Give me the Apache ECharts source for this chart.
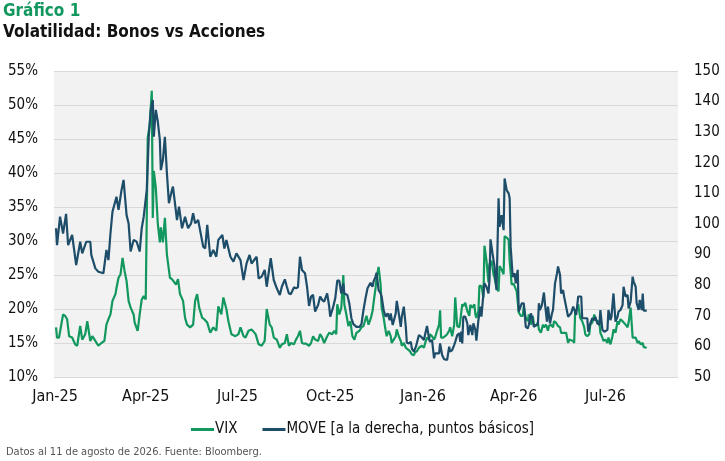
<!DOCTYPE html>
<html>
<head>
<meta charset="utf-8">
<script src="https://cdn.jsdelivr.net/npm/echarts@6/dist/echarts.min.js"></script>
<style>
  html, body { margin: 0; padding: 0; background: #fff; }
  #chart { width: 725px; height: 461px; }
</style>
</head>
<body>
<div id="chart"></div>
<script>
const tickDates = ["2025-01-01", "2025-04-01", "2025-07-01", "2025-10-01", "2026-01-01", "2026-04-01", "2026-07-01"];
const tickLabels = ["Jan-25", "Apr-25", "Jul-25", "Oct-25", "Jan-26", "Apr-26", "Jul-26"];

const leftTicks = [10, 55, 5];    // min, max, step (%)
const rightTicks = [50, 150, 10]; // min, max, step (bp)

const vixDates = [
    "2025-01-02","2025-01-03","2025-01-05","2025-01-07","2025-01-09","2025-01-11","2025-01-13","2025-01-15","2025-01-18","2025-01-21",
    "2025-01-23","2025-01-26","2025-01-28","2025-01-31","2025-02-02","2025-02-05","2025-02-07","2025-02-10","2025-02-13","2025-02-16",
    "2025-02-19","2025-02-21","2025-02-23","2025-02-25","2025-02-27","2025-03-02","2025-03-03","2025-03-05","2025-03-07","2025-03-09",
    "2025-03-11","2025-03-13","2025-03-15","2025-03-17","2025-03-20","2025-03-21","2025-03-24","2025-03-26","2025-03-28","2025-03-30",
    "2025-04-01","2025-04-03","2025-04-05","2025-04-07","2025-04-08","2025-04-09","2025-04-11","2025-04-13","2025-04-15","2025-04-16",
    "2025-04-18","2025-04-20","2025-04-22","2025-04-25","2025-04-27","2025-04-28","2025-05-01","2025-05-03","2025-05-05","2025-05-08",
    "2025-05-10","2025-05-12","2025-05-15","2025-05-18","2025-05-20","2025-05-22","2025-05-24","2025-05-27","2025-05-29","2025-06-01",
    "2025-06-04","2025-06-07","2025-06-10","2025-06-12","2025-06-15","2025-06-17","2025-06-20","2025-06-22","2025-06-25","2025-06-29",
    "2025-07-02","2025-07-04","2025-07-07","2025-07-09","2025-07-12","2025-07-15","2025-07-19","2025-07-22","2025-07-25","2025-07-28",
    "2025-07-30","2025-08-02","2025-08-04","2025-08-06","2025-08-09","2025-08-12","2025-08-14","2025-08-17","2025-08-19","2025-08-21",
    "2025-08-23","2025-08-26","2025-08-28","2025-08-30","2025-09-01","2025-09-03","2025-09-05","2025-09-07","2025-09-10","2025-09-12",
    "2025-09-14","2025-09-16","2025-09-19","2025-09-21","2025-09-23","2025-09-25","2025-09-28","2025-09-30","2025-10-03","2025-10-05",
    "2025-10-07","2025-10-08","2025-10-10","2025-10-12","2025-10-14","2025-10-15","2025-10-17","2025-10-19","2025-10-21","2025-10-23",
    "2025-10-25","2025-10-27","2025-10-30","2025-11-01","2025-11-03","2025-11-06","2025-11-08","2025-11-10","2025-11-12","2025-11-13",
    "2025-11-15","2025-11-16","2025-11-18","2025-11-20","2025-11-21","2025-11-23","2025-11-25","2025-11-26","2025-11-28","2025-11-30",
    "2025-12-01","2025-12-03","2025-12-05","2025-12-06","2025-12-08","2025-12-10","2025-12-11","2025-12-13","2025-12-15","2025-12-16",
    "2025-12-19","2025-12-21","2025-12-23","2025-12-24","2025-12-26","2025-12-28","2025-12-29","2025-12-31","2026-01-02","2026-01-03",
    "2026-01-05","2026-01-07","2026-01-08","2026-01-10","2026-01-12","2026-01-13","2026-01-15","2026-01-17","2026-01-18","2026-01-19",
    "2026-01-21","2026-01-23","2026-01-25","2026-01-27","2026-01-28","2026-01-30","2026-02-01","2026-02-02","2026-02-04","2026-02-06",
    "2026-02-07","2026-02-09","2026-02-10","2026-02-12","2026-02-14","2026-02-16","2026-02-17","2026-02-19","2026-02-21","2026-02-22",
    "2026-02-23","2026-02-25","2026-02-26","2026-02-28","2026-03-02","2026-03-03","2026-03-05","2026-03-07","2026-03-08","2026-03-10",
    "2026-03-12","2026-03-13","2026-03-15","2026-03-17","2026-03-18","2026-03-20","2026-03-22","2026-03-23","2026-03-25","2026-03-27",
    "2026-03-28","2026-03-30","2026-04-01","2026-04-02","2026-04-04","2026-04-06","2026-04-08","2026-04-10","2026-04-11","2026-04-13",
    "2026-04-15","2026-04-16","2026-04-18","2026-04-20","2026-04-21","2026-04-23","2026-04-25","2026-04-26","2026-04-28","2026-04-30",
    "2026-05-01","2026-05-03","2026-05-05","2026-05-06","2026-05-08","2026-05-10","2026-05-11","2026-05-13","2026-05-15","2026-05-17",
    "2026-05-18","2026-05-20","2026-05-21","2026-05-23","2026-05-25","2026-05-26","2026-05-28","2026-05-30","2026-05-31","2026-06-01",
    "2026-06-03","2026-06-04","2026-06-06","2026-06-08","2026-06-10","2026-06-11","2026-06-13","2026-06-15","2026-06-16","2026-06-18",
    "2026-06-20","2026-06-21","2026-06-23","2026-06-25","2026-06-26","2026-06-28","2026-06-29","2026-07-01","2026-07-03","2026-07-04",
    "2026-07-06","2026-07-08","2026-07-09","2026-07-11","2026-07-13","2026-07-14","2026-07-16","2026-07-18","2026-07-19","2026-07-21",
    "2026-07-23","2026-07-24","2026-07-26","2026-07-28","2026-07-29","2026-07-31","2026-08-02","2026-08-03","2026-08-05","2026-08-07",
    "2026-08-08","2026-08-11"
];
const vixValues = [
    17.3,15.8,15.8,17.5,19.2,19.0,18.5,16.0,15.8,14.8,
    14.6,17.5,15.5,16.3,18.2,15.3,16.0,15.3,14.6,15.0,
    15.3,17.7,18.5,19.2,21.2,22.2,23.1,24.6,25.1,27.5,
    25.6,24.1,21.2,20.2,19.2,18.0,16.8,19.2,21.4,21.9,
    21.4,45.2,47.2,52.1,33.4,40.3,37.8,32.5,29.8,32.0,
    29.8,33.4,28.0,24.6,24.4,24.6,23.6,24.4,22.2,21.2,
    18.7,17.7,17.3,17.7,21.2,22.2,20.2,18.7,18.5,18.0,
    16.5,17.3,16.8,20.4,19.2,21.7,20.0,18.2,16.3,16.0,
    16.3,17.3,16.0,15.8,16.8,17.0,16.3,14.8,14.6,15.3,
    20.0,17.7,17.3,15.8,15.5,14.3,14.8,15.0,16.3,14.6,
    15.0,14.8,15.5,16.0,16.8,15.0,14.9,14.9,14.6,15.0,
    16.0,15.5,15.3,16.3,15.8,15.0,16.0,16.5,16.3,16.8,
    16.3,20.7,19.2,20.2,25.0,20.7,19.2,17.5,18.2,16.0,
    15.5,16.5,16.8,17.3,17.5,19.0,17.7,18.5,19.7,20.9,
    23.1,24.6,26.2,23.6,20.2,18.7,16.8,16.0,16.8,16.0,
    15.0,15.5,16.0,17.0,16.0,15.3,14.6,15.0,14.3,14.1,
    13.8,13.3,13.2,13.6,13.8,14.3,14.3,14.6,14.3,14.9,
    15.8,15.5,16.3,16.0,15.5,15.8,16.8,17.7,19.8,15.8,
    15.8,16.0,16.3,16.8,17.3,16.0,17.7,21.7,17.5,17.3,
    18.2,20.7,20.4,20.9,19.7,19.0,20.6,20.2,20.7,19.2,
    18.7,19.7,23.4,23.4,21.7,29.3,27.1,23.9,26.6,27.1,
    25.1,24.6,23.1,22.6,26.3,25.8,25.1,30.7,30.5,30.2,
    27.1,23.6,23.7,23.9,22.6,19.5,19.0,19.0,20.4,18.7,
    18.2,19.2,17.7,19.0,17.7,17.5,18.0,17.0,16.5,17.7,
    17.3,17.7,16.8,17.5,17.7,17.3,18.2,18.0,17.5,17.3,
    16.5,16.5,16.3,16.5,15.0,15.5,15.4,15.3,15.0,19.7,
    20.0,20.7,18.7,18.2,17.3,16.3,16.0,16.3,17.7,18.0,
    19.2,18.5,18.2,18.2,16.5,15.8,15.3,15.5,15.0,15.8,
    14.8,16.0,17.0,16.5,18.2,17.7,18.5,18.2,18.2,17.7,
    17.3,18.0,20.2,15.8,15.8,15.8,15.0,15.3,14.8,15.0,
    14.4,14.3
];

const moveDates = [
    "2025-01-02","2025-01-03","2025-01-06","2025-01-09","2025-01-12","2025-01-14","2025-01-18","2025-01-19","2025-01-22","2025-01-26",
    "2025-01-28","2025-02-01","2025-02-05","2025-02-06","2025-02-10","2025-02-13","2025-02-18","2025-02-21","2025-02-23","2025-02-25",
    "2025-02-27","2025-03-03","2025-03-05","2025-03-08","2025-03-10","2025-03-13","2025-03-15","2025-03-17","2025-03-20","2025-03-23",
    "2025-03-26","2025-03-28","2025-03-30","2025-04-02","2025-04-04","2025-04-06","2025-04-08","2025-04-09","2025-04-11","2025-04-13",
    "2025-04-15","2025-04-16","2025-04-18","2025-04-20","2025-04-22","2025-04-24","2025-04-27","2025-04-28","2025-05-02","2025-05-04",
    "2025-05-07","2025-05-10","2025-05-13","2025-05-16","2025-05-18","2025-05-20","2025-05-23","2025-05-28","2025-05-30","2025-06-01",
    "2025-06-04","2025-06-07","2025-06-10","2025-06-12","2025-06-16","2025-06-18","2025-06-20","2025-06-24","2025-06-27","2025-06-30",
    "2025-07-04","2025-07-07","2025-07-10","2025-07-13","2025-07-15","2025-07-20","2025-07-22","2025-07-25","2025-07-28","2025-07-30",
    "2025-08-03","2025-08-06","2025-08-09","2025-08-12","2025-08-14","2025-08-17","2025-08-19","2025-08-21","2025-08-23","2025-08-26",
    "2025-08-28","2025-08-30","2025-09-01","2025-09-03","2025-09-06","2025-09-08","2025-09-10","2025-09-12","2025-09-14","2025-09-16",
    "2025-09-19","2025-09-21","2025-09-23","2025-09-25","2025-09-28","2025-09-30","2025-10-01","2025-10-04","2025-10-06","2025-10-08",
    "2025-10-10","2025-10-12","2025-10-14","2025-10-15","2025-10-18","2025-10-20","2025-10-22","2025-10-24","2025-10-27","2025-10-30",
    "2025-11-01","2025-11-03","2025-11-05","2025-11-07","2025-11-10","2025-11-12","2025-11-13","2025-11-15","2025-11-16","2025-11-18",
    "2025-11-20","2025-11-21","2025-11-23","2025-11-25","2025-11-27","2025-11-29","2025-11-30","2025-12-02","2025-12-05","2025-12-06",
    "2025-12-08","2025-12-10","2025-12-11","2025-12-13","2025-12-15","2025-12-16","2025-12-18","2025-12-20","2025-12-21","2025-12-23",
    "2025-12-25","2025-12-26","2025-12-28","2025-12-30","2025-12-31","2026-01-02","2026-01-03","2026-01-05","2026-01-07","2026-01-08",
    "2026-01-10","2026-01-12","2026-01-13","2026-01-15","2026-01-17","2026-01-18","2026-01-20","2026-01-22","2026-01-23","2026-01-25",
    "2026-01-27","2026-01-28","2026-01-30","2026-02-01","2026-02-02","2026-02-04","2026-02-06","2026-02-07","2026-02-08","2026-02-09",
    "2026-02-10","2026-02-12","2026-02-14","2026-02-15","2026-02-17","2026-02-19","2026-02-20","2026-02-22","2026-02-23","2026-02-25",
    "2026-02-27","2026-02-28","2026-03-02","2026-03-03","2026-03-05","2026-03-07","2026-03-08","2026-03-09","2026-03-11","2026-03-13",
    "2026-03-14","2026-03-15","2026-03-17","2026-03-18","2026-03-20","2026-03-22","2026-03-23","2026-03-25","2026-03-27","2026-03-28",
    "2026-03-29","2026-03-31","2026-04-02","2026-04-03","2026-04-05","2026-04-06","2026-04-07","2026-04-09","2026-04-11","2026-04-13",
    "2026-04-15","2026-04-16","2026-04-18","2026-04-20","2026-04-21","2026-04-23","2026-04-25","2026-04-26","2026-04-27","2026-04-29",
    "2026-05-01","2026-05-02","2026-05-04","2026-05-05","2026-05-07","2026-05-09","2026-05-10","2026-05-12","2026-05-14","2026-05-15",
    "2026-05-17","2026-05-18","2026-05-20","2026-05-21","2026-05-23","2026-05-25","2026-05-26","2026-05-28","2026-05-30","2026-05-31",
    "2026-06-02","2026-06-04","2026-06-05","2026-06-07","2026-06-08","2026-06-10","2026-06-11","2026-06-13","2026-06-14","2026-06-16",
    "2026-06-18","2026-06-20","2026-06-21","2026-06-23","2026-06-25","2026-06-26","2026-06-28","2026-06-30","2026-07-01","2026-07-03",
    "2026-07-04","2026-07-06","2026-07-07","2026-07-09","2026-07-11","2026-07-13","2026-07-14","2026-07-16","2026-07-18","2026-07-19",
    "2026-07-21","2026-07-23","2026-07-24","2026-07-26","2026-07-28","2026-07-29","2026-07-31","2026-08-01","2026-08-03","2026-08-04",
    "2026-08-06","2026-08-07","2026-08-08","2026-08-11"
];
const moveValues = [
    98.6,93.1,102.4,96.9,103.3,93.1,96.4,95.9,86.6,94.2,
    90.4,94.2,94.2,89.9,85.5,84.4,83.9,91.5,88.2,96.9,
    104.0,108.9,104.6,111.1,114.4,102.9,100.2,91.0,94.8,94.2,
    91.0,98.6,102.4,111.1,128.5,137.3,140.5,128.5,137.3,133.4,
    127.5,117.6,120.9,128.5,116.6,106.8,111.1,112.2,101.3,105.7,
    98.6,102.4,98.6,100.2,103.5,100.2,101.3,92.6,92.0,99.7,
    89.3,91.5,89.3,94.8,96.4,92.0,94.8,89.3,87.7,90.4,
    88.2,81.7,87.1,89.9,87.1,89.3,82.2,82.8,85.0,79.5,
    88.8,81.7,79.0,76.8,79.5,81.9,79.5,77.3,77.1,79.3,
    79.0,79.3,89.3,85.0,83.9,79.5,73.2,76.3,76.8,71.4,
    73.5,76.3,75.2,74.6,77.3,73.0,69.7,73.0,75.7,81.5,
    81.5,77.3,80.6,77.3,76.8,73.9,69.2,67.3,66.4,66.4,
    67.3,71.9,75.7,79.0,80.8,79.5,81.2,82.8,84.1,78.4,
    77.3,76.3,71.9,69.7,70.8,68.6,70.8,67.0,70.8,74.9,
    70.8,66.4,69.7,73.0,66.4,61.2,61.0,61.5,59.3,58.3,
    59.9,59.9,63.7,63.2,63.2,62.1,63.7,66.7,62.6,61.5,
    62.1,56.1,57.7,57.7,57.7,61.0,57.2,55.8,55.3,55.6,
    59.9,58.3,58.8,60.5,61.5,63.7,64.3,61.5,64.8,61.0,
    69.7,69.7,67.5,63.7,67.0,63.7,67.5,65.4,61.9,68.6,
    73.0,69.7,77.3,80.6,79.5,77.3,81.7,95.0,90.4,86.1,
    81.7,78.4,108.4,99.1,102.9,98.0,114.9,111.1,110.0,108.4,
    92.6,82.7,83.9,80.6,85.0,71.4,71.9,74.1,74.1,66.4,
    65.9,67.0,70.8,68.6,66.4,67.0,67.0,74.1,71.9,73.5,
    77.6,74.1,68.1,73.0,67.5,70.8,71.9,80.6,83.9,86.1,
    83.3,77.3,78.4,76.3,73.0,69.7,70.3,70.8,73.0,73.5,
    70.3,76.3,76.8,76.3,69.2,69.2,68.6,69.2,64.8,67.5,
    69.2,68.6,69.7,67.5,67.0,71.9,65.4,64.8,65.4,65.4,
    71.9,68.6,69.7,77.3,68.1,69.7,71.4,71.9,73.5,79.5,
    76.3,76.8,72.4,74.6,82.8,81.2,79.5,74.1,71.9,75.2,
    71.9,77.3,71.7,71.7
];

const GREEN = "#12985e";
const NAVY = "#1d4d69";
const FONT = "'Liberation Sans Narrow', 'DejaVu Sans Condensed', 'Roboto', sans-serif";
const COND = "'DejaVu Sans Condensed', 'DejaVu Sans', sans-serif";

function toTime(s) {
    const p = s.split("-").map(Number);
    return new Date(p[0], p[1] - 1, p[2]).getTime();
}

const tickTimes = tickDates.map(toTime);
const vixData = vixDates.map((d, i) => [toTime(d), vixValues[i]]);
const moveData = moveDates.map((d, i) => [toTime(d), moveValues[i]]);

const chart = echarts.init(document.getElementById("chart"), null, { renderer: "canvas" });

chart.setOption({
    backgroundColor: "#ffffff",
    animation: false,
    textStyle: { fontFamily: FONT },
    title: [
        {
            text: "Gráfico 1",
            left: 3, top: 3, padding: 0,
            textStyle: { color: GREEN, fontSize: 17, fontWeight: "bold", fontFamily: COND }
        },
        {
            text: "Volatilidad: Bonos vs Acciones",
            left: 3, top: 24, padding: 0,
            textStyle: { color: "#111", fontSize: 17, fontWeight: "bold", fontFamily: COND }
        },
        {
            text: "Datos al 11 de agosto de 2026. Fuente: Bloomberg.",
            left: 6, top: 447, padding: 0,
            textStyle: { color: "#555", fontSize: 11, fontWeight: "normal", fontFamily: FONT }
        }
    ],
    legend: {
        bottom: 19,
        left: "center",
        itemWidth: 23,
        itemHeight: 3,
        itemGap: 25,
        icon: "rect",
        textStyle: { color: "#111", fontSize: 15, padding: [0, 0, 0, -4] },
        data: ["VIX", "MOVE [a la derecha, puntos básicos]"]
    },
    grid: {
        left: 54, right: 47, top: 71, bottom: 84,
        show: true,
        backgroundColor: "#f2f2f2",
        borderWidth: 0
    },
    xAxis: {
        type: "value",
        min: toTime("2024-12-31"),
        max: toTime("2026-09-11"),
        axisLine: { show: false },
        axisTick: { show: false },
        splitLine: { show: false },
        axisLabel: {
            customValues: tickTimes,
            color: "#111",
            fontSize: 16,
            fontFamily: COND,
            margin: 12,
            formatter: (v) => {
                const i = tickTimes.indexOf(v);
                return i >= 0 ? tickLabels[i] : "";
            }
        }
    },
    yAxis: [
        {
            type: "value",
            min: leftTicks[0], max: leftTicks[1], interval: leftTicks[2],
            axisLine: { show: false },
            axisTick: { show: false },
            axisLabel: { color: "#111", fontSize: 15, margin: 16, formatter: "{value}%" },
            splitLine: { lineStyle: { color: "#d9d9d9", width: 1 } }
        },
        {
            type: "value",
            min: rightTicks[0], max: rightTicks[1], interval: rightTicks[2],
            axisLine: { show: false },
            axisTick: { show: false },
            axisLabel: { color: "#111", fontSize: 15, margin: 16 },
            splitLine: { show: false }
        }
    ],
    series: [
        {
            name: "VIX",
            type: "line",
            yAxisIndex: 0,
            data: vixData,
            showSymbol: false,
            symbol: "none",
            color: GREEN,
            lineStyle: { width: 2.2, color: GREEN },
            z: 3
        },
        {
            name: "MOVE [a la derecha, puntos básicos]",
            type: "line",
            yAxisIndex: 1,
            data: moveData,
            showSymbol: false,
            symbol: "none",
            color: NAVY,
            lineStyle: { width: 2.2, color: NAVY },
            z: 4
        }
    ]
});
</script>
</body>
</html>
